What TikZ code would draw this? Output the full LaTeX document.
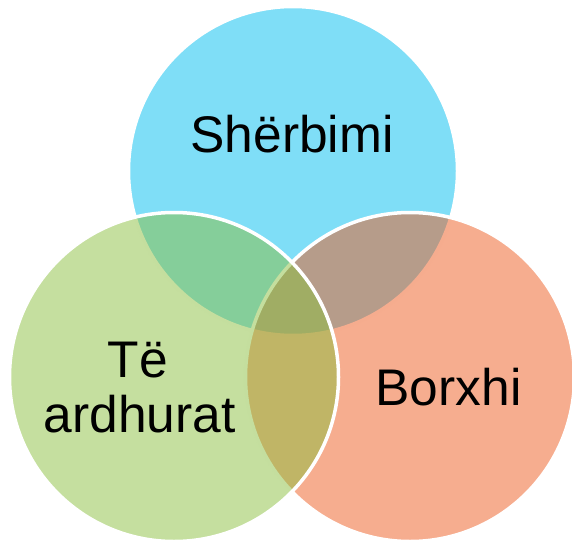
\documentclass[tikz,border=0pt]{standalone}
\usepackage{fontspec}
\setmainfont{Liberation Sans}
\definecolor{cblue}{HTML}{7FDEF7}
\definecolor{cgreen}{HTML}{8BBF3F}
\definecolor{corange}{HTML}{ED5B1F}
\begin{document}
\begin{tikzpicture}[x=1pt,y=-1pt,
  venn/.style={circle, draw=white, line width=3.5pt, inner sep=0pt, minimum size=329pt},
  lbl/.style={anchor=base, inner sep=0pt, text=black, font=\fontsize{51.5}{56}\selectfont}]
\useasboundingbox (0,0) rectangle (572,540);
\node[venn, fill=cblue] (top) at (293,171) {};
\node[venn, fill=corange, fill opacity=0.5] (right) at (410,377) {};
\node[venn, fill=cgreen, fill opacity=0.5] (left) at (174,377) {};
\node[lbl] (t1) at (292,153) {Shërbimi};
\node[lbl] (t2) at (138,377) {Të};
\node[lbl] (t3) at (139.5,432) {ardhurat};
\node[lbl] (t4) at (448.5,405) {Borxhi};
\end{tikzpicture}
\end{document}
